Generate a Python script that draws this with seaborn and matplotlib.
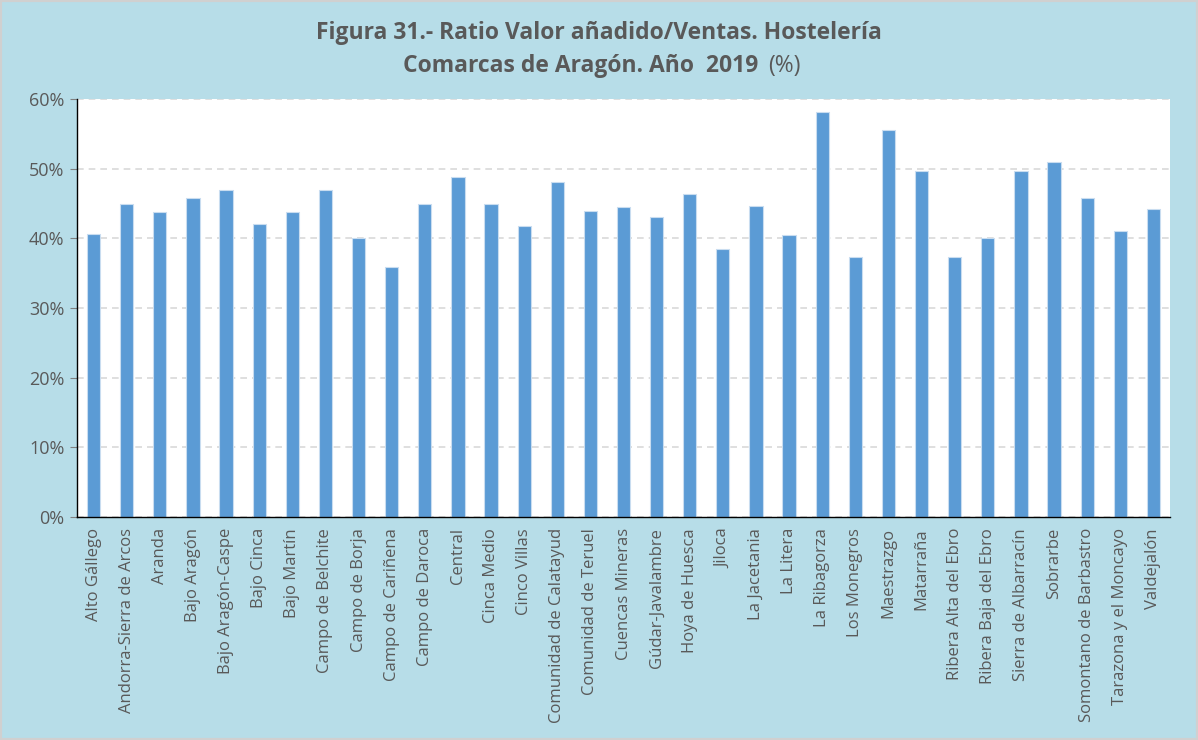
import matplotlib
matplotlib.use("Agg")
import matplotlib.pyplot as plt
import matplotlib.ticker as mticker
import numpy as np
import pandas as pd
import seaborn as sns

comarcas = [
    "Alto Gállego", "Andorra-Sierra de Arcos", "Aranda", "Bajo Aragón",
    "Bajo Aragón-Caspe", "Bajo Cinca", "Bajo Martín", "Campo de Belchite",
    "Campo de Borja", "Campo de Cariñena", "Campo de Daroca", "Central",
    "Cinca Medio", "Cinco Villas", "Comunidad de Calatayud", "Comunidad de Teruel",
    "Cuencas Mineras", "Gúdar-Javalambre", "Hoya de Huesca", "Jiloca",
    "La Jacetania", "La Litera", "La Ribagorza", "Los Monegros", "Maestrazgo",
    "Matarraña", "Ribera Alta del Ebro", "Ribera Baja del Ebro",
    "Sierra de Albarracín", "Sobrarbe", "Somontano de Barbastro",
    "Tarazona y el Moncayo", "Valdejalón",
]
ratio = [
    40.6, 45.0, 43.8, 45.8, 47.0, 42.0, 43.8, 47.0, 40.1, 35.9, 45.0, 48.8,
    45.0, 41.7, 48.1, 43.9, 44.5, 43.0, 46.3, 38.4, 44.6, 40.5, 58.2, 37.3,
    55.6, 49.6, 37.3, 40.1, 49.6, 50.9, 45.8, 41.0, 44.2,
]

df = pd.DataFrame({"comarca": comarcas, "ratio": ratio})

bg = "#B7DDE8"
txt = "#595959"

sns.set_style("white")
plt.rcParams["font.family"] = ["Open Sans", "DejaVu Sans"]

fig = plt.figure(figsize=(11.98, 7.40), dpi=100, facecolor=bg)
ax = fig.add_axes([77 / 1198, 1 - 517 / 740, (1170 - 77) / 1198, (517 - 99) / 740])

sns.barplot(data=df, x="comarca", y="ratio", color="#5B9BD5", width=0.4,
            edgecolor="#C9DDF0", linewidth=0.8, saturation=1, ax=ax)

ax.set_ylim(0, 60)
ax.set_xlim(-0.5, len(comarcas) - 0.5)
ax.yaxis.set_major_locator(mticker.MultipleLocator(10))
ax.yaxis.set_major_formatter(mticker.FuncFormatter(lambda v, p: f"{v:.0f}%"))
ax.set_axisbelow(True)
ax.grid(axis="y", color="#D9D9D9", linestyle=(0, (4, 3)), linewidth=1.2)
ax.set_xlabel("")
ax.set_ylabel("")

for s in ["top", "right"]:
    ax.spines[s].set_visible(False)
for s in ["left", "bottom"]:
    ax.spines[s].set_color("black")
    ax.spines[s].set_linewidth(1.0)

ax.set_xticks(np.arange(len(comarcas)))
ax.set_xticklabels(comarcas, rotation=90, color=txt, fontsize=12)
ax.set_xticks(np.arange(-0.5, len(comarcas)), minor=True)
ax.tick_params(axis="x", which="major", length=0, pad=8)
ax.tick_params(axis="x", which="minor", length=5, color="#808080", direction="out")
ax.tick_params(axis="y", length=5, color="#808080", direction="out", labelcolor=txt,
               labelsize=13, left=True, pad=4)

# title: two bold lines, the "(%)" in regular weight
fig.text(0.5, 1 - 33 / 740, "Figura 31.- Ratio Valor añadido/Ventas. Hostelería",
         ha="center", va="center", fontsize=16.5, fontweight="bold", color=txt)
t2 = fig.text(0.485, 1 - 66 / 740, "Comarcas de Aragón. Año  2019",
              ha="center", va="center", fontsize=16.5, fontweight="bold", color=txt)
fig.canvas.draw()
bb = t2.get_window_extent()
fig.text((bb.x1 + 9) / fig.bbox.width, 1 - 66 / 740, "(%)",
         ha="left", va="center", fontsize=16.5, color=txt)

fig.patches.append(plt.Rectangle((0, 0), 1, 1, transform=fig.transFigure,
                                 fill=False, edgecolor="#D0D0D0", linewidth=3))

fig.savefig("out.png", dpi=100, facecolor=bg)
